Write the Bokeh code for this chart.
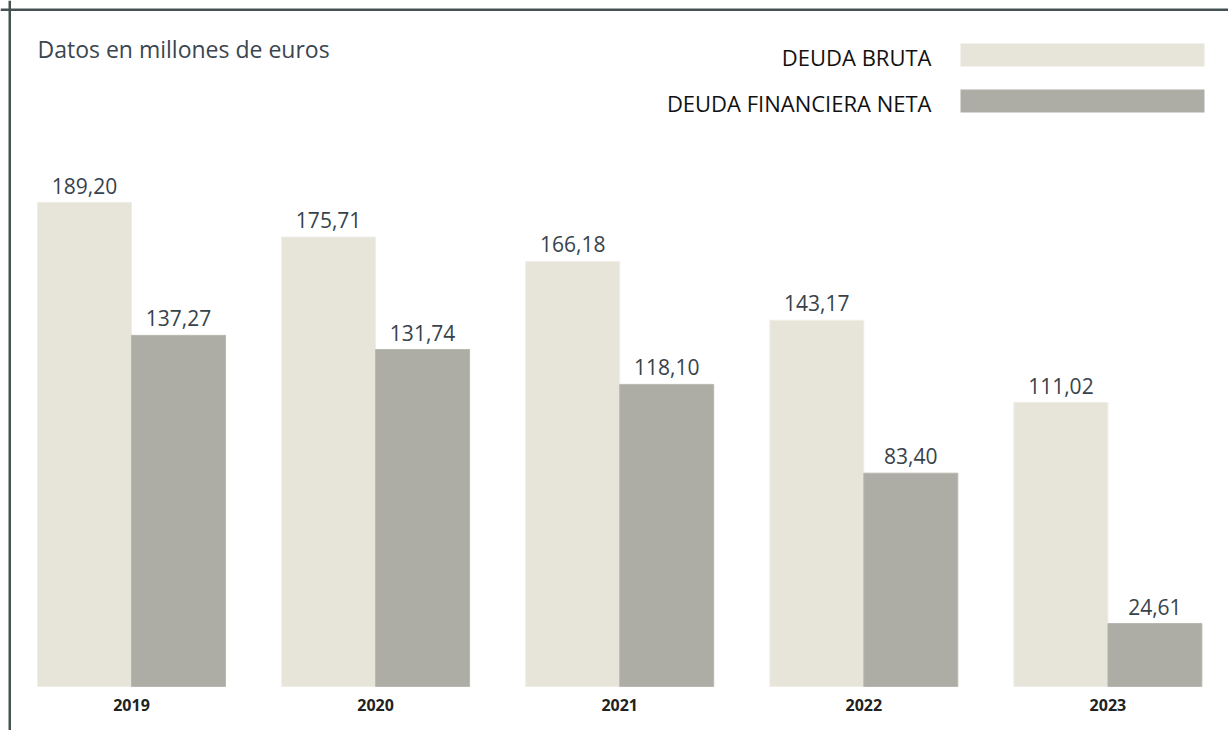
from bokeh.plotting import figure
from bokeh.models import Span, ColumnDataSource
from bokeh.core.properties import value
from bokeh.embed import file_html
from bokeh.resources import INLINE

# ---- data ----
years = ["2019", "2020", "2021", "2022", "2023"]
deuda_bruta = [189.20, 175.71, 166.18, 143.17, 111.02]
deuda_neta = [137.27, 131.74, 118.10, 83.40, 24.61]
series_names = ["DEUDA BRUTA", "DEUDA FINANCIERA NETA"]
title_text = "Datos en millones de euros"

# ---- style ----
C_BRUTA = "#e7e5da"
C_NETA = "#adada5"
C_BORDER = "#465152"
C_LABEL = "#37434b"
FONT = "Open Sans"

W, H = 1228, 730
PX_X = 244.1      # px per category
PX_Y = 2.558      # px per unit
X0 = -131.0 / PX_X
X1 = X0 + W / PX_X
Y0 = -44.0 / PX_Y
Y1 = Y0 + H / PX_Y
BAR_W = 94.0 / PX_X


def dx(px):
    return X0 + px / PX_X


def dy(py):
    return Y0 + (H - py) / PX_Y


p = figure(width=W, height=H, x_range=(X0, X1), y_range=(Y0, Y1),
           output_backend="svg", toolbar_location=None, min_border=0,
           x_axis_location=None, y_axis_location=None)
p.xgrid.visible = False
p.ygrid.visible = False
p.outline_line_color = None
p.background_fill_color = "white"
p.border_fill_color = "white"

idx = list(range(len(years)))
xb = [i - BAR_W / 2 for i in idx]
xn = [i + BAR_W / 2 for i in idx]

src = ColumnDataSource(dict(xb=xb, xn=xn, bruta=deuda_bruta, neta=deuda_neta,
                            lb=[f"{v:.2f}".replace(".", ",") for v in deuda_bruta],
                            ln=[f"{v:.2f}".replace(".", ",") for v in deuda_neta],
                            xc=idx, yr=years))

p.vbar(x="xb", top="bruta", bottom=0, width=BAR_W, source=src,
       fill_color=C_BRUTA, line_color="#efeee6", line_width=1)
p.vbar(x="xn", top="neta", bottom=0, width=BAR_W, source=src,
       fill_color=C_NETA, line_color="#b8b8b1", line_width=1)

p.text(x="xb", y="bruta", text="lb", source=src, text_align="center",
       text_baseline="bottom", y_offset=-9, text_font=value(FONT),
       text_font_size="21px", text_color=C_LABEL)
p.text(x="xn", y="neta", text="ln", source=src, text_align="center",
       text_baseline="bottom", y_offset=-9, text_font=value(FONT),
       text_font_size="21px", text_color=C_LABEL)

# year labels (category axis)
p.text(x="xc", y=0, text="yr", source=src, text_align="center",
       text_baseline="middle", y_offset=18, text_font=value(FONT),
       text_font_size="16px", text_font_style="bold", text_color="#222222")

# title
p.text(x=[dx(37)], y=[dy(48)], text=[title_text], text_align="left",
       text_baseline="middle", text_font=value(FONT), text_font_size="23px",
       text_color="#3b4650")

# legend
leg_y = [dy(56), dy(102)]
p.quad(left=[dx(960)] * 2, right=[dx(1204)] * 2,
       top=[dy(43), dy(89)], bottom=[dy(66), dy(112)],
       fill_color=[C_BRUTA, C_NETA], line_color=None)
p.text(x=[dx(931)] * 2, y=leg_y, text=series_names, text_align="right",
       text_baseline="middle", text_font=value(FONT), text_font_size="22px",
       text_color="#111111")

# border (top and left)
p.add_layout(Span(location=dx(9.25), dimension="height",
                  line_color=C_BORDER, line_width=2.5))
p.add_layout(Span(location=dy(9.25), dimension="width",
                  line_color=C_BORDER, line_width=2.5))

open("out.html", "w").write(file_html(p, INLINE))
